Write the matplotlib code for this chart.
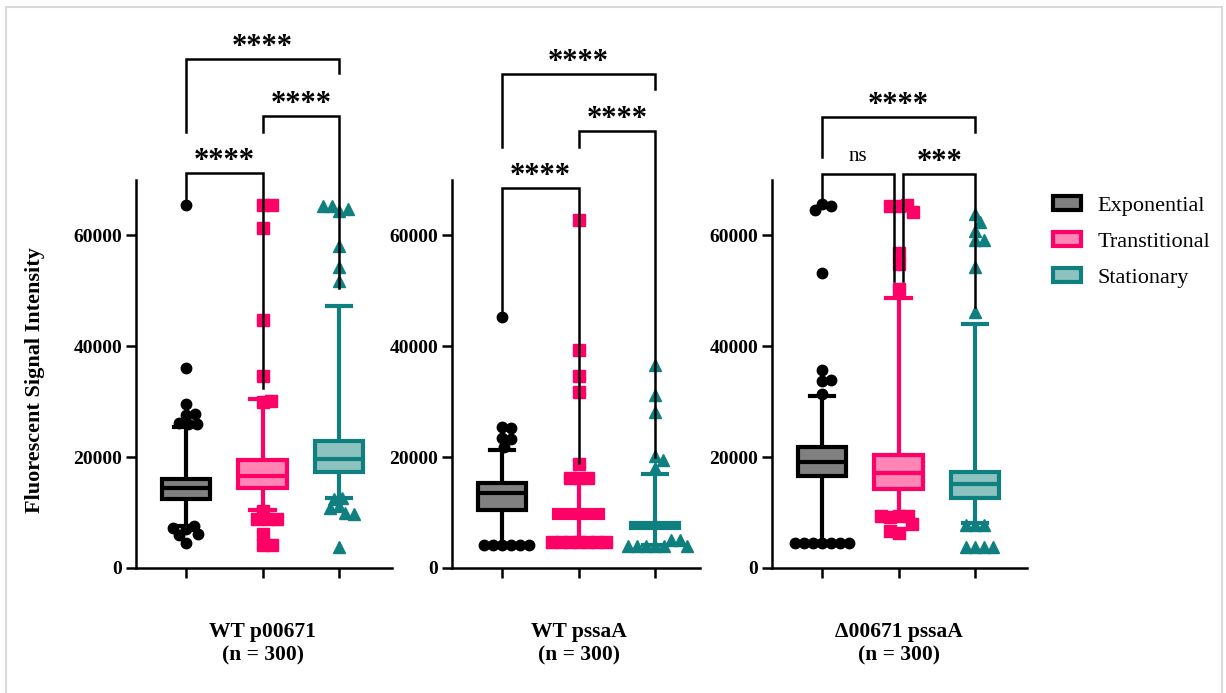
import numpy as np
import matplotlib.pyplot as plt
from matplotlib.patches import Patch, Rectangle

plt.rcParams['font.family'] = ['Liberation Serif', 'DejaVu Serif']

W, H = 1226, 693

groups = ['Exponential', 'Transtitional', 'Stationary']
panel_names = ['WT p00671\n(n = 300)', 'WT pssaA\n(n = 300)', '\u039400671 pssaA\n(n = 300)']

# box statistics, one row per panel, one column per growth phase
q1 = [[12400, 14450, 17300], [10500, 9000, 7300], [16600, 14200, 12600]]
med = [[14400, 16600, 19600], [13600, 9800, 7800], [19200, 17100, 15200]]
q3 = [[16000, 19400, 23000], [15300, 10500, 8200], [21800, 20400, 17400]]
whislo = [[7600, 10500, 12650], [4200, 4750, 4200], [4500, 9300, 8200]]
whishi = [[25500, 30400, 47300], [21300, 16300, 17000], [31100, 48700, 44100]]

# points outside the whiskers
outliers = [
    [
        [65500, 36000, 29500, 27600, 27800, 26000, 26200, 25900, 7000, 7600, 6000, 6100, 7200, 4600],
        [65500, 65500, 61400, 44800, 34600, 30000, 30200, 10200, 8850, 8850, 8850, 6100, 4150, 4150],
        [64400, 64700, 65300, 65300, 58100, 54300, 51700, 11100, 12600, 12400, 9900, 10900, 9800, 3700],
    ],
    [
        [45300, 25500, 25300, 23500, 23200, 21900, 4150, 4150, 4150, 4150, 4150, 4150],
        [62800, 39400, 34600, 31800, 18700, 16300, 16300, 16200, 4750, 4750, 4750, 4750, 4750, 4750, 4750],
        [36700, 31300, 28100, 20200, 19500, 18000, 4000, 4000, 4000, 5000, 4000, 5000, 4000, 4000],
    ],
    [
        [65600, 65300, 64600, 53300, 35800, 33800, 34000, 31400, 4500, 4500, 4500, 4500, 4500, 4500, 4500],
        [65300, 65500, 65300, 64300, 56900, 54800, 50400, 9300, 9300, 9200, 9300, 7900, 6300, 6700],
        [63800, 62500, 60800, 59100, 59100, 54300, 46100, 7800, 7800, 7800, 3700, 3700, 3700, 3700],
    ],
]

# significance brackets: (x start, x end, height, left leg end, right leg end, label)
brackets = [
    [(0, 2, 91800, 78660, 89270, '****'), (1, 2, 81550, 78660, 50600, '****'), (0, 1, 71200, 65500, 32500, '****')],
    [(0, 2, 89200, 76000, 86400, '****'), (1, 2, 78800, 76000, 20000, '****'), (0, 1, 68500, 45300, 19000, '****')],
    [(0, 2, 81400, 74200, 78700, '****'), (0, 0.935, 71100, 65500, 51700, 'ns'), (1.065, 2, 71100, 51700, 47000, '***')],
]

edge_cols = ['#000000', '#ff0066', '#0f7f7f']
fill_cols = ['#808080', '#ff85b5', '#8cc2bf']
markers = ['o', 's', '^']
msizes = [7.5, 8.5, 9]

# axes placement in pixels: left, right
ax_px = [(136, 392), (452, 700), (772, 1027)]
ax_top, ax_bot = 180, 568
px_per_unit = 76.5
val_per_px = 70000 / (ax_bot - ax_top)


def swarm(vals, d=9.0):
    placed = []
    offs = []
    for v in vals:
        y = v / val_per_px
        cand = [0.0]
        for py, px in placed:
            dy = y - py
            if abs(dy) < d:
                dx = np.sqrt(d * d - dy * dy)
                cand += [px + dx, px - dx]
        cand.sort(key=abs)
        for c in cand:
            if all((c - px) ** 2 + (y - py) ** 2 >= d * d - 1e-6 for py, px in placed):
                break
        placed.append((y, c))
        offs.append(c / px_per_unit)
    return offs


fig = plt.figure(figsize=(W / 100, H / 100), dpi=100)

for p in range(3):
    l, r = ax_px[p]
    ax = fig.add_axes([l / W, (H - ax_bot) / H, (r - l) / W, (ax_bot - ax_top) / H])
    for g in range(3):
        st = dict(med=med[p][g], q1=q1[p][g], q3=q3[p][g],
                  whislo=whislo[p][g], whishi=whishi[p][g], fliers=[])
        ax.bxp([st], positions=[g], widths=0.64, capwidths=0.32, patch_artist=True,
               showfliers=False,
               boxprops=dict(facecolor=fill_cols[g], edgecolor=edge_cols[g], linewidth=3),
               whiskerprops=dict(color=edge_cols[g], linewidth=3, solid_capstyle='butt'),
               capprops=dict(color=edge_cols[g], linewidth=3),
               medianprops=dict(color=edge_cols[g], linewidth=3))
        vals = outliers[p][g]
        xs = g + np.array(swarm(vals))
        ax.plot(xs, vals, ls='none', marker=markers[g], ms=msizes[g],
                color=edge_cols[g], mec=edge_cols[g], zorder=4)

    for xa, xb, yb, la, lb, lab in brackets[p]:
        ax.plot([xa, xa, xb, xb], [la, yb, yb, lb], color='black', lw=1.8,
                clip_on=False, zorder=6, solid_joinstyle='miter')
        if '*' in lab:
            ax.text((xa + xb) / 2, yb + 4 * val_per_px, lab, ha='center', va='baseline',
                    fontsize=22, fontweight='bold', clip_on=False)
        else:
            ax.text((xa + xb) / 2, yb + 13 * val_per_px, lab, ha='center', va='baseline',
                    fontsize=15, clip_on=False)

    ax.set_xlim(-50 / px_per_unit, 2 + (r - l - 50 - 2 * px_per_unit) / px_per_unit)
    ax.set_ylim(0, 70000)
    ax.set_xticks([0, 1, 2])
    ax.set_xticklabels([])
    ax.set_yticks([0, 20000, 40000, 60000])
    ax.set_yticklabels(['0', '20000', '40000', '60000'])
    for t in ax.get_yticklabels():
        t.set_fontweight('bold')
    ax.tick_params(axis='both', length=7, width=1.8, labelsize=14, pad=3)
    for s in ['top', 'right']:
        ax.spines[s].set_visible(False)
    for s in ['left', 'bottom']:
        ax.spines[s].set_linewidth(1.8)
    ax.annotate(panel_names[p], xy=(1, 0), xycoords=('data', 'axes fraction'),
                xytext=(0, -39), textcoords='offset points', ha='center', va='top',
                fontsize=15.5, fontweight='bold', linespacing=1.2)

fig.text(35 / W, 1 - 380 / H, 'Fluorescent Signal Intensity', rotation=90,
         ha='center', va='center', fontsize=16, fontweight='bold')

handles = [Patch(facecolor=fill_cols[g], edgecolor=edge_cols[g], linewidth=3) for g in range(3)]
fig.legend(handles, groups, loc='upper left', bbox_to_anchor=(1053 / W, 1 - 196 / H),
           frameon=False, fontsize=16, handlelength=1.25, handleheight=0.6,
           handletextpad=0.75, labelspacing=0.72, borderpad=0, borderaxespad=0)

fig.add_artist(Rectangle((6 / W, -0.02), 1216 / W, 1.02 - 7 / H, transform=fig.transFigure,
                         fill=False, edgecolor='#d9d9d9', linewidth=1.5))

fig.savefig('out.png', dpi=100)
